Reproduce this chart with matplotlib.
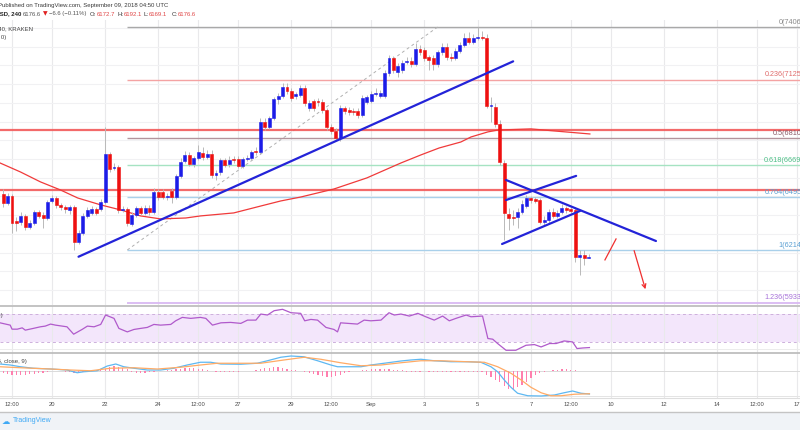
import numpy as np
import matplotlib
matplotlib.use('Agg')
import matplotlib.pyplot as plt
from matplotlib.patches import Rectangle
from matplotlib.lines import Line2D

plt.rcParams['font.family'] = ['Liberation Sans', 'DejaVu Sans']

# ---------------- data (4h candles, BTCUSD Kraken) ----------------
opens = [6513, 6465, 6503, 6369, 6364, 6396, 6337, 6358, 6417, 6401,
         6385, 6476, 6492, 6455, 6444, 6428, 6444, 6257, 6305, 6396,
         6412, 6433, 6433, 6471, 6727, 6652, 6658, 6428, 6433, 6353,
         6401, 6439, 6412, 6439, 6417, 6524, 6524, 6497, 6529, 6497,
         6610, 6690, 6722, 6674, 6706, 6733, 6711, 6727, 6615, 6631,
         6695, 6674, 6700, 6700, 6663, 6700, 6706, 6743, 6738, 6898,
         6872, 6920, 7021, 7037, 7085, 7064, 7037, 7043, 7080, 6973,
         7010, 7010, 7005, 6962, 6872, 6850, 6813, 6973, 6962, 6957,
         6957, 6936, 7005, 7010, 7048, 7037, 7037, 7160, 7240, 7166,
         7176, 7219, 7224, 7208, 7288, 7283, 7246, 7240, 7208, 7272,
         7299, 7246, 7240, 7278, 7310, 7347, 7326, 7347, 7353, 7347,
         6984, 6978, 6888, 6679, 6406, 6390, 6390, 6417, 6449, 6492,
         6487, 6481, 6364, 6374, 6417, 6396, 6417, 6439, 6433, 6428,
         6177, 6187, 6172.7]
highs = [6540, 6519, 6513, 6390, 6417, 6406, 6374, 6428, 6428, 6417,
         6481, 6508, 6503, 6465, 6455, 6455, 6455, 6321, 6412, 6444,
         6449, 6444, 6487, 6872, 6738, 6679, 6668, 6449, 6444, 6417,
         6449, 6449, 6455, 6455, 6545, 6540, 6540, 6519, 6545, 6620,
         6706, 6743, 6738, 6717, 6775, 6765, 6749, 6749, 6642, 6706,
         6706, 6717, 6717, 6717, 6711, 6722, 6749, 6765, 6920, 6920,
         6930, 7032, 7053, 7107, 7107, 7080, 7059, 7096, 7096, 7016,
         7021, 7027, 7021, 6973, 6888, 6866, 6989, 6984, 6978, 6973,
         6973, 7043, 7043, 7064, 7080, 7069, 7176, 7256, 7251, 7214,
         7230, 7246, 7246, 7320, 7310, 7299, 7256, 7256, 7283, 7320,
         7320, 7267, 7294, 7326, 7374, 7379, 7369, 7406, 7385, 7369,
         7032, 7000, 6909, 6695, 6439, 6428, 6439, 6481, 6508, 6503,
         6497, 6492, 6396, 6433, 6439, 6428, 6460, 6449, 6444, 6444,
         6214, 6214, 6192.1]
lows = [6444, 6455, 6305, 6316, 6348, 6321, 6326, 6348, 6385, 6332,
        6374, 6465, 6439, 6428, 6412, 6406, 6214, 6246, 6294, 6385,
        6401, 6401, 6423, 6460, 6631, 6642, 6412, 6417, 6342, 6342,
        6390, 6401, 6401, 6401, 6406, 6481, 6487, 6481, 6465, 6487,
        6599, 6679, 6663, 6658, 6695, 6695, 6700, 6599, 6588, 6615,
        6658, 6658, 6679, 6652, 6652, 6690, 6695, 6722, 6727, 6855,
        6861, 6909, 6994, 7027, 7048, 7010, 7021, 7032, 6984, 6957,
        6957, 6984, 6946, 6855, 6834, 6802, 6797, 6941, 6936, 6936,
        6920, 6925, 6994, 7000, 7037, 7027, 7027, 7144, 7160, 7139,
        7160, 7208, 7192, 7198, 7256, 7224, 7176, 7176, 7192, 7256,
        7230, 7224, 7230, 7267, 7299, 7315, 7315, 7337, 7337, 6973,
        6898, 6872, 6668, 6268, 6321, 6348, 6332, 6406, 6439, 6465,
        6465, 6353, 6348, 6358, 6385, 6385, 6406, 6412, 6412, 6150,
        6080, 6134, 6169.1]
closes = [6465, 6503, 6358, 6358, 6396, 6337, 6358, 6417, 6396, 6385,
          6471, 6492, 6455, 6444, 6433, 6444, 6257, 6305, 6396, 6428,
          6433, 6412, 6471, 6727, 6647, 6658, 6428, 6433, 6358, 6401,
          6439, 6412, 6439, 6417, 6524, 6497, 6497, 6503, 6497, 6610,
          6684, 6722, 6674, 6706, 6738, 6711, 6727, 6615, 6626, 6695,
          6668, 6695, 6695, 6663, 6700, 6706, 6738, 6738, 6898, 6872,
          6920, 7021, 7037, 7085, 7064, 7027, 7048, 7080, 7000, 7000,
          6973, 7005, 6962, 6872, 6850, 6813, 6973, 6957, 6952, 6952,
          6936, 7027, 7032, 7048, 7053, 7053, 7160, 7240, 7176, 7198,
          7214, 7224, 7208, 7288, 7272, 7240, 7230, 7208, 7272, 7299,
          7246, 7240, 7278, 7310, 7347, 7326, 7347, 7353, 7347, 6984,
          6989, 6888, 6684, 6412, 6385, 6385, 6417, 6460, 6492, 6481,
          6476, 6364, 6374, 6417, 6396, 6412, 6439, 6428, 6423, 6177,
          6187, 6171, 6176.6]

# moving average (read at sample candles)
ma_idx = [-0.7, 3.9, 8.4, 12.9, 16.8, 22.0, 26.5, 31.0, 35.5, 41.2, 44.5, 52.0, 58.1,
          62.6, 67.1, 74.6, 82.0, 89.7, 94.2, 98.3, 103.2, 105.5, 109.3, 111.6, 119.0,
          125.8, 132.3]
ma_val = [6679, 6631, 6578, 6535, 6492, 6455, 6428, 6396, 6380, 6385, 6396, 6412, 6449,
          6476, 6497, 6540, 6599, 6679, 6722, 6759, 6791, 6818, 6845, 6855, 6861,
          6847, 6834]

# Fibonacci retracement
fib_ratios = ["0", "0.236", "0.5", "0.618", "0.764", "1", "1.236"]
fib_prices = [7406, 7125, 6810, 6669, 6495, 6214, 5933]
fib_colors = ["#a9a9a9", "#f4a3a3", "#b3949c", "#a6e3c2", "#a9d0ea", "#a9d0ea", "#d9b9f2"]
fib_text_colors = ["#8a8a8a", "#e06c6c", "#8a5a66", "#4cbf86", "#5a9fd2", "#5a9fd2", "#a772d9"]
fib_start = 28
fib_diag = ([28, 98], [6214, 7406])

# horizontal support / resistance lines
hlines_red = [6855, 6535]

# trend lines (start idx, start price, end idx, end price)
trend_lines = [(17.0, 6178, 115.0, 7222),
               (113.4, 6481, 129.2, 6610),
               (112.5, 6246, 130.1, 6423),
               (113.4, 6588, 147.2, 6262)]
red_seg = ([135.7, 138.2], [6161, 6273])
red_arrow = ((142.1, 6225), (145.0, 5990))

# RSI
rsi_idx = [-0.7, 1.6, 2.0, 3.2, 4.3, 5.0, 6.8, 8.4, 9.5, 10.7, 11.8, 14.4, 15.9, 17.8, 19.0,
           20.5, 22.0, 23.1, 25.0, 26.1, 28.0, 29.5, 31.0, 32.5, 34.0, 35.5, 37.8, 38.9, 40.4,
           42.3, 44.5, 45.7, 47.2, 49.1, 51.3, 53.6, 55.1, 57.0, 58.1, 59.6, 61.1, 63.0, 64.9,
           67.1, 68.0, 69.4, 70.9, 72.8, 74.6, 75.4, 76.1, 79.9, 81.4, 82.9, 85.2, 87.0, 88.2,
           89.7, 91.6, 93.5, 95.3, 97.2, 99.1, 100.6, 102.1, 104.4, 105.5, 108.1, 109.3, 110.4,
           111.5, 113.4, 115.6, 117.9, 119.8, 121.3, 123.2, 124.7, 126.5, 128.4, 129.4, 130.7,
           132.2]
rsi_val = [57.4, 54.1, 48.3, 48.3, 50.2, 46.9, 49.4, 51.7, 52.7, 55.6, 54.1, 51.7, 41.1, 47.9,
           52.7, 51.7, 55.1, 68.6, 63.8, 49.4, 44.4, 47.9, 49.4, 50.8, 55.1, 54.1, 55.1, 60.3,
           65.2, 63.8, 65.2, 63.8, 54.1, 57.4, 58.0, 56.6, 61.3, 61.3, 70.0, 68.6, 74.8, 76.8,
           71.9, 71.0, 60.3, 62.3, 61.3, 50.8, 47.9, 44.4, 57.4, 55.6, 61.3, 60.3, 61.3, 71.9,
           68.6, 70.0, 67.1, 71.0, 66.1, 61.3, 67.1, 60.3, 63.8, 68.6, 66.1, 67.1, 34.9, 33.9,
           27.7, 18.0, 18.0, 25.2, 26.2, 22.8, 27.7, 27.7, 31.4, 30.0, 20.5, 21.3, 21.9]

# MACD (12, 26, close, 9)
macd_idx = [-0.7, 1.6, 3.9, 6.8, 10.7, 14.4, 16.7, 18.2, 21.2, 23.5, 25.4, 27.2, 29.5, 32.5,
            35.5, 38.5, 41.5, 44.5, 46.8, 49.1, 53.6, 57.3, 59.6, 62.6, 64.9, 67.8, 70.9, 73.9,
            75.4, 77.7, 80.7, 82.9, 85.9, 89.7, 91.9, 94.2, 97.2, 101.0, 104.7, 107.7, 110.0,
            111.5, 113.0, 114.5, 116.0, 118.3, 121.3, 124.3, 126.5, 128.4, 130.3, 132.2]
macd_val = [56, 48, 34, 22, 16, 8, -14, -6, 2, 40, 56, 34, 22, 8, 8, 22, 48, 70, 70, 56, 54,
            62, 82, 110, 120, 114, 82, 48, 34, 34, 34, 48, 62, 80, 88, 94, 82, 74, 74, 70, 34,
            -6, -72, -130, -178, -198, -200, -192, -174, -160, -178, -184]
sig_idx = [-0.7, 3.9, 10.7, 15.2, 19.7, 24.2, 29.5, 34.8, 40.0, 44.5, 48.3, 53.6, 58.1, 63.3,
           67.9, 71.6, 76.1, 80.7, 85.2, 89.7, 94.2, 98.7, 104.7, 108.5, 111.5, 114.5, 116.8,
           119.0, 121.3, 123.5, 125.8, 128.8, 132.2]
sig_val = [34, 26, 16, 8, 2, 22, 26, 16, 30, 48, 62, 62, 62, 88, 110, 94, 66, 42, 48, 66, 82,
           82, 74, 70, 34, -18, -72, -130, -174, -198, -198, -186, -182]
hist_val = [-16, -24, -32, -32, -32, -32, -24, -24, -16, -16, -8,
            0, 0, 0, -8, -8,
            -16, -16, -8,
            0, 8, 8, 8,
            16, 32, 40, 32, 24, 16,
            -8, -16, -16, -16, -8, -8, 0, 0,
            8, 8, 16, 16, 24, 24, 24, 16, 16,
            8, 0, -8, -8, -8, -8, -8, -8, 0, 0,
            0, 8, 16, 24, 24, 32, 32, 24, 16, 8, 8,
            0, -8, -16, -24, -32, -40, -48, -48, -40, -32,
            -16, -8, 0, 0, 8, 8, 16,
            16, 16, 16, 16, 8, 8, 8,
            -8, -8, -8, -8, 0, -8, -8, -8, -8, -8, -8, -8, -8, -8, -8, -8, -8,
            -8, -32, -48, -72, -88, -120, -144, -144, -128, -112, -88, -56, -32, -16, -8,
            0, 8, 8, 16, 16, 8,
            8, 0, 0, 0]

tick_idx = [2, 11, 23, 35, 44, 53, 65, 74, 83, 95, 107, 119, 128, 137, 149, 161, 170, 179]
tick_lbl = ["12:00", "20", "22", "24", "12:00", "27", "29", "12:00", "Sep", "3", "5", "7",
            "12:00", "10", "12", "14", "12:00", "17"]

# ---------------- figure ----------------
W, H = 800, 430
fig = plt.figure(figsize=(8, 4.3), dpi=100)
fig.patch.set_facecolor('white')


def fy(y):
    return 1 - y / H


XL = (-0.706, 179.68)
ax = fig.add_axes([0, fy(305), 1, 285 / H])
ax2 = fig.add_axes([0, fy(353), 1, 47 / H])
ax3 = fig.add_axes([0, fy(398), 1, 45 / H])

for a in (ax, ax2, ax3):
    a.set_xlim(*XL)
    for s in a.spines.values():
        s.set_visible(False)
    a.set_xticks(tick_idx)
    a.set_axisbelow(True)
    a.xaxis.grid(True, color='#e9e9eb', lw=0.8)
    a.tick_params(axis='both', length=0, labelleft=False, labelbottom=False)

ax.set_ylim(5920, 7443)
ax.set_yticks(np.arange(6000, 7500, 100))
ax.yaxis.grid(True, color='#f1f1f3', lw=0.8)

# fib
for r, p, c, tc in zip(fib_ratios, fib_prices, fib_colors, fib_text_colors):
    ax.plot([fib_start, 190], [p, p], color=c, lw=1.3 if r == "1.236" else 1.0, zorder=2,
            solid_capstyle='butt')
    ax.text(180.6, p + 6, f"{r}({p})", ha='right', va='bottom', fontsize=5.2, color=tc,
            clip_on=False, zorder=6)
ax.plot(fib_diag[0], fib_diag[1], color='#b0b0b0', lw=0.7, ls=(0, (3, 3)), zorder=2)

for p in hlines_red:
    ax.axhline(p, color='#f25a5a', lw=1.6, alpha=0.9, zorder=2)

# MA
ax.plot(ma_idx, ma_val, color='#f03a3a', lw=0.9, zorder=3)

# candles
idx = np.arange(len(opens))
o = np.array(opens, float)
c = np.array(closes, float)
hi = np.array(highs, float)
lo = np.array(lows, float)
up = c >= o
ax.vlines(idx, lo, hi, color='#b9b9b9', lw=0.7, zorder=4)
col = np.where(up, '#1c1ce8', '#ee1010')
body_h = c - o
ax.bar(idx, body_h, bottom=o, width=0.66, color=col, edgecolor=col, lw=0.4, zorder=5)

# trend lines
for x0, y0, x1, y1 in trend_lines:
    ax.plot([x0, x1], [y0, y1], color='#2323d8', lw=1.6, zorder=6, solid_capstyle='round')
ax.plot(red_seg[0], red_seg[1], color='#f03030', lw=0.9, zorder=6)
ax.annotate('', xy=red_arrow[1], xytext=red_arrow[0],
            arrowprops=dict(arrowstyle='->', color='#f03030', lw=0.9, mutation_scale=7),
            zorder=6)

# RSI
ax2.set_ylim(14.1, 81.55)
ax2.axhspan(30, 70, color='#f3e6fb', lw=0, zorder=0)
for lv in (70, 30):
    ax2.axhline(lv, color='#cdb0dc', lw=0.7, ls=(0, (3, 3)), zorder=1)
ax2.axhline(20, color='#ececec', lw=0.7, zorder=1)
ax2.plot(rsi_idx, rsi_val, color='#b05acb', lw=0.9, zorder=3)

# MACD
ax3.set_ylim(-216, 144)
ax3.axhline(0, color='#dadada', lw=0.7, zorder=1)
ax3.axhline(-200, color='#e4e4e4', lw=0.7, zorder=1)
ax3.bar(idx, hist_val, width=0.28, color='#ff7fae', zorder=2)
ax3.plot(macd_idx, macd_val, color='#5eb8f2', lw=0.9, zorder=3)
ax3.plot(sig_idx, sig_val, color='#ffab66', lw=0.9, zorder=3)
ax3.tick_params(axis='x', labelbottom=True, labelsize=4.2, labelcolor='#4a4a4a', pad=3.2)
ax3.set_xticklabels(tick_lbl)

# separators & footer
for y, cl, lw in ((306, '#b9b9b9', 1.2), (353, '#b9b9b9', 1.2), (398, '#dedede', 0.8),
                  (412, '#c4c4c4', 1.0)):
    fig.add_artist(Line2D([0, 1], [fy(y), fy(y)], color=cl, lw=lw, transform=fig.transFigure))
fig.patches.append(Rectangle((0, 0), 1, 18 / H, transform=fig.transFigure,
                             facecolor='#f0f3f7', edgecolor='none', zorder=0))


def tx(x, y, s, **kw):
    fig.text(x / W, fy(y), s, va='center', **kw)


# header texts
tx(168, 6, "Published on TradingView.com, September 09, 2018 04:50 UTC", ha='right',
   fontsize=4.3, color='#3a3a3a')
tx(21, 14, "BTCUSD, 240", ha='right', fontsize=4.3, color='#222222', fontweight='bold')
tx(22.7, 14, "6176.6", ha='left', fontsize=4.3, color='#555555')
tx(43, 14, "▼", ha='left', fontsize=4.3, color='#e02020', family=['DejaVu Sans'])
tx(49, 14, "−6.6 (−0.11%)", ha='left', fontsize=4.3, color='#555555')
for xl, lab, xv, val in ((90, "O:", 96.7, "6172.7"), (117.3, "H:", 123.3, "6192.1"),
                         (144, "L:", 149, "6169.1"), (171.7, "C:", 177.7, "6176.6")):
    tx(xl, 14, lab, ha='left', fontsize=4.3, color='#333333')
    tx(xv, 14, val, ha='left', fontsize=4.3, color='#e04848')
tx(33, 29, "BTCUSD, 240, KRAKEN", ha='right', fontsize=4.3, color='#444444')
tx(6, 38, "MA (100, close, 0)", ha='right', fontsize=4.3, color='#444444')
tx(3, 315, "RSI (14, close)", ha='right', fontsize=4.3, color='#444444')
tx(27, 362, "MACD (12, 26, close, 9)", ha='right', fontsize=4.3, color='#444444')

# footer logo
tx(2, 421, "☁", ha='left', fontsize=6, color='#3fa9f5', family=['DejaVu Sans'])
tx(13, 421, "TradingView", ha='left', fontsize=5, color='#3fa9f5')

fig.savefig('out.png', dpi=100)
